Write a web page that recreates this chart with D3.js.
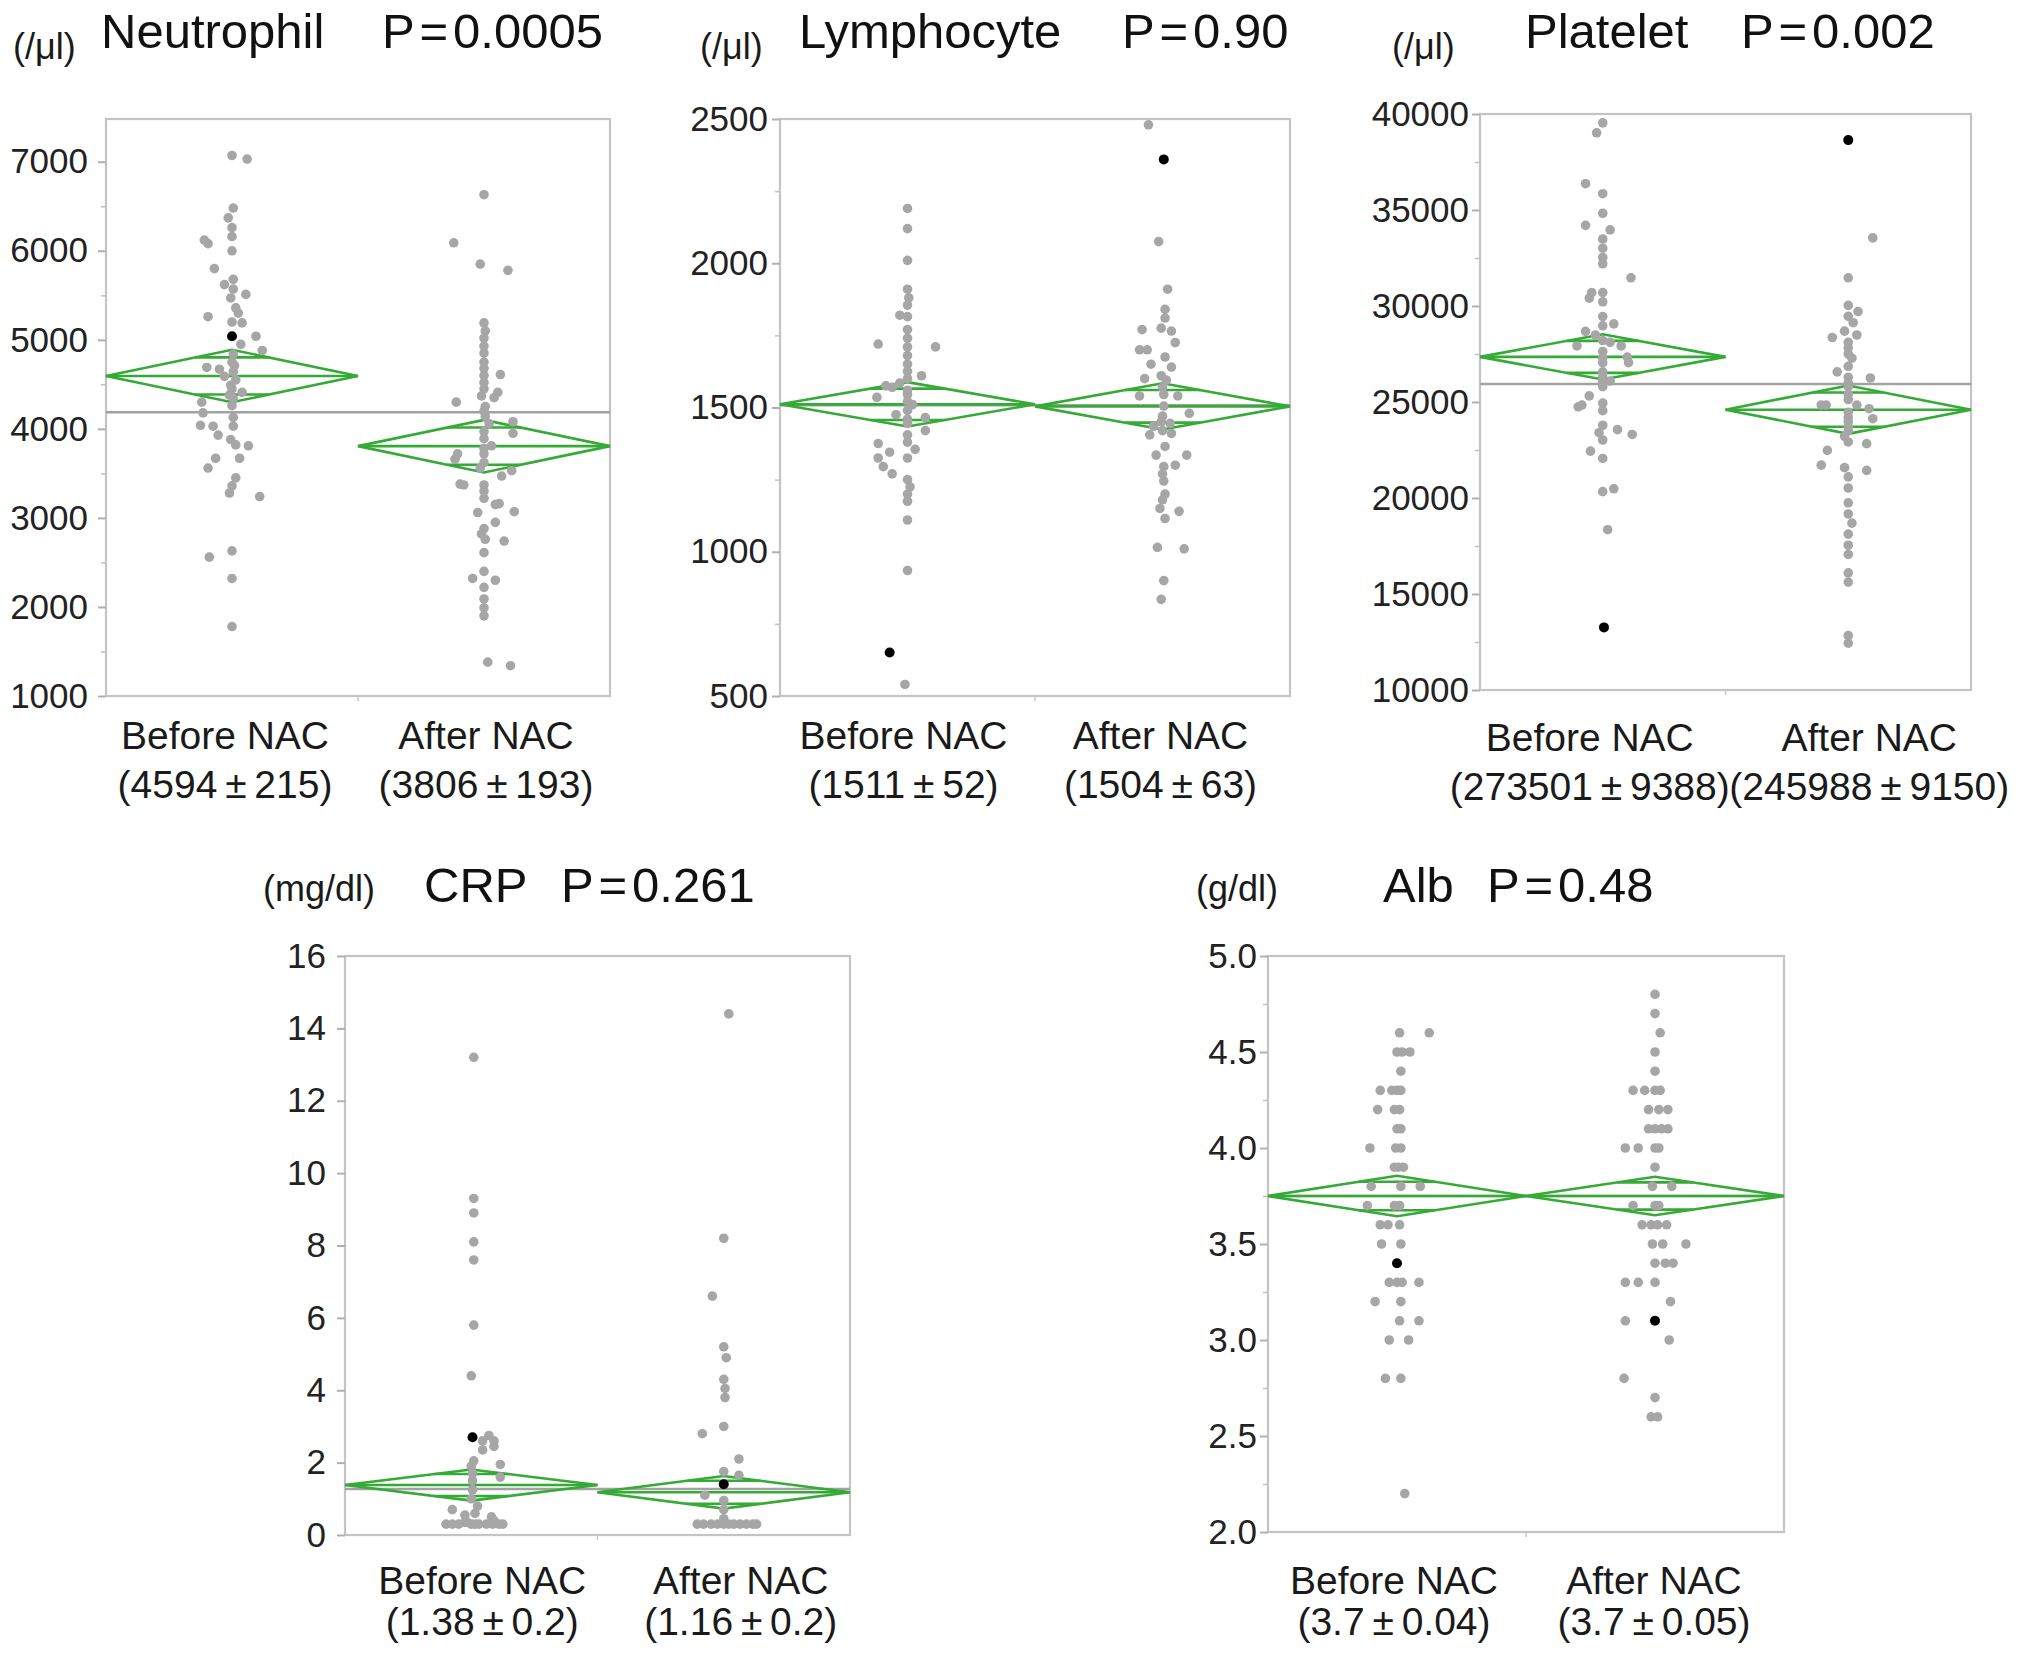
<!DOCTYPE html>
<html>
<head>
<meta charset="utf-8">
<script src="https://cdn.jsdelivr.net/npm/d3@7"></script>
<style>
  body { margin: 0; background: #fff; }
  svg { display: block; }
  text { font-family: "Liberation Sans", Arial, sans-serif; }
</style>
</head>
<body>
<div id="chart"></div>
<script>
// Categorias comunes
const categories = ["Before NAC", "After NAC"]

// Neutrophil: [valor, jitter]
const neutroBefore = [[7070,0],[7030,0.12],[6480,0.01],[6370,-0.03],[6260,0],[6160,0],[6120,-0.22],[6080,-0.19],[6000,0],[5800,-0.14],[5680,0.01],[5620,-0.06],[5570,0.01],[5510,0.11],[5470,-0.01],[5360,0.03],[5300,0.05],[5260,-0.19],[5200,0],[5190,0.08],[5040,0.19],[4950,0.07],[4880,0.24],[4840,0.01],[4750,0],[4710,0.02],[4690,-0.2],[4670,-0.1],[4640,0.01],[4590,-0.06],[4550,0.03],[4490,-0.01],[4450,0],[4410,0.08],[4380,-0.02],[4340,0.01],[4300,-0.24],[4260,0],[4180,-0.23],[4130,0.01],[4040,-0.25],[4030,0.01],[4030,-0.15],[3930,-0.11],[3880,-0.01],[3820,0.03],[3810,0.13],[3670,-0.13],[3670,0.06],[3560,-0.19],[3450,0.03],[3360,0],[3280,-0.02],[3240,0.22],[2630,0],[2560,-0.18],[2320,0],[1780,0]]
const neutroAfter = [[6630,0],[6090,-0.24],[5850,-0.03],[5780,0.19],[5190,0],[5100,0.01],[5020,0],[4930,0],[4850,0],[4750,0],[4680,0],[4600,0],[4610,0.13],[4520,0],[4450,0],[4370,-0.02],[4410,0.11],[4350,0.08],[4300,-0.22],[4250,0.01],[4200,0],[4140,0.01],[4080,0.23],[4060,0.04],[3950,0.23],[3970,0],[3890,0],[3810,0.06],[3780,0],[3720,0],[3720,-0.21],[3660,-0.23],[3620,0],[3560,-0.03],[3530,0.22],[3470,0.14],[3380,-0.19],[3370,-0.16],[3370,0],[3300,0],[3220,0],[3160,0.12],[3150,0.09],[3070,0.24],[3060,-0.05],[2950,0.09],[2880,0],[2820,-0.02],[2760,0.01],[2740,0.16],[2610,0],[2400,0],[2320,-0.09],[2300,0.09],[2220,0],[2090,0],[1990,0],[1900,0],[1380,0.03],[1340,0.21]]
const neutroBlack = [["Before NAC",5040,0]]
const neutroMeans = [4594, 3806]
const neutroCI = [295, 295]
const neutroGrand = 4186
const neutroLabels = ["(4594±215)", "(3806±193)"]
const neutroTicks = [1000,2000,3000,4000,5000,6000,7000]
const neutroMinor = [1500,2500,3500,4500,5500,6500]

// Lymphocyte
const lymphBefore = [[2190,0],[2120,0],[2010,0],[1910,0],[1880,0.01],[1855,0],[1820,-0.06],[1815,0],[1770,0],[1740,0],[1720,-0.23],[1710,0.22],[1710,0],[1680,0],[1650,0],[1625,0],[1610,0.11],[1600,0],[1585,-0.06],[1575,-0.17],[1570,-0.12],[1560,0],[1545,0],[1535,-0.24],[1520,0],[1510,0.04],[1490,0],[1475,-0.09],[1465,0.14],[1460,0],[1445,0],[1420,0.14],[1405,0],[1380,0],[1375,-0.23],[1355,0.06],[1345,-0.14],[1325,-0.23],[1325,0],[1295,-0.19],[1270,-0.12],[1250,0],[1225,0.02],[1200,0],[1175,0],[1110,0],[935,0],[540,-0.02]]
const lymphAfter = [[2480,-0.11],[2075,-0.03],[1910,0.04],[1840,0.02],[1810,0.02],[1775,-0.01],[1770,-0.16],[1765,0.07],[1725,0.1],[1700,-0.18],[1700,-0.12],[1675,0.02],[1650,-0.09],[1640,0.07],[1610,-0.01],[1600,-0.14],[1595,0.03],[1570,0],[1545,0.01],[1540,-0.18],[1540,0.12],[1505,0.01],[1480,0.21],[1470,0],[1450,-0.01],[1445,0.06],[1435,-0.07],[1420,0],[1410,0.07],[1405,-0.1],[1365,0.02],[1335,-0.05],[1335,0.19],[1300,0.1],[1295,0.01],[1270,0],[1245,0.01],[1200,0.02],[1180,0],[1150,-0.02],[1140,0.13],[1115,0.02],[1015,-0.04],[1010,0.17],[900,0.01],[835,-0.01]]
const lymphBlack = [["Before NAC",651,-0.14],["After NAC",2360,0.01]]
const lymphMeans = [1511, 1504]
const lymphCI = [77, 80]
const lymphGrand = 1508
const lymphLabels = ["(1511±52)", "(1504±63)"]
const lymphTicks = [500,1000,1500,2000,2500]
const lymphMinor = [750,1250,1750,2250]

// Platelet
const plateletBefore = [[39540,0],[39020,-0.05],[36370,-0.14],[35850,0],[34830,0],[34200,-0.14],[33970,0.06],[33490,0],[33010,0],[32530,0],[32200,0],[31470,0.23],[30700,-0.09],[30410,-0.11],[30700,0],[30220,0],[29450,0],[29070,0.09],[28970,0],[28680,-0.14],[28490,-0.06],[28200,0],[28110,0.06],[27920,-0.21],[27920,0.15],[27630,0],[27340,0.2],[27300,0],[27050,0.21],[27050,0],[26570,0],[26300,0],[26090,0],[26090,0.06],[25800,0],[25320,-0.11],[24940,0],[24840,-0.17],[24750,-0.2],[24550,0],[23790,0],[23560,0.12],[23400,-0.03],[23310,0.24],[23020,0],[22440,-0.1],[22060,0],[20480,0.09],[20330,0],[18350,0.04]]
const plateletAfter = [[33550,0.2],[31470,0],[30030,0],[29710,0.08],[29460,0],[29130,0.04],[28690,-0.03],[28490,0.07],[28360,-0.13],[28110,0],[27820,0],[27500,0],[27280,0.03],[26860,0],[26570,-0.09],[26290,0],[26250,0.18],[26000,0],[25800,0],[25400,0],[25130,0],[24840,-0.18],[24840,-0.22],[24840,0.07],[24650,0.17],[24460,0],[24200,0],[24130,0.2],[23980,0],[23700,0],[23500,0],[23210,-0.03],[22920,0],[22830,0.15],[22480,-0.17],[21710,-0.22],[21580,-0.03],[21440,0.15],[21100,0],[20520,0],[19750,0],[19170,0],[18690,0.03],[18120,0],[17540,0],[17060,0],[16100,0],[15620,0],[12830,0],[12440,0]]
const plateletBlack = [["Before NAC",13260,0.01],["After NAC",38640,0]]
const plateletMeans = [27350, 24600]
const plateletCI = [1180, 1260]
const plateletGrand = 25940
const plateletLabels = ["(273501±9388)", "(245988±9150)"]
const plateletTicks = [10000,15000,20000,25000,30000,35000,40000]
const plateletMinor = [12500,17500,22500,27500,32500,37500]

// CRP
const crpBefore = [[13.2,0.02],[9.3,0.02],[8.9,0.02],[8.1,0.02],[7.6,0.02],[5.8,0.02],[4.4,0],[2.75,0.14],[2.6,0.09],[2.6,0.18],[2.45,0.18],[2.35,0.09],[2.05,0.02],[1.95,0.23],[1.9,0],[1.7,0.01],[1.6,0.23],[1.5,0.01],[1.25,0.01],[1.0,0],[0.8,0.05],[0.7,-0.15],[0.6,0.03],[0.55,-0.05],[0.5,0.16],[0.4,0.18],[0.35,-0.05],[0.35,-0.03],[0.3,-0.2],[0.3,-0.15],[0.3,-0.1],[0.3,0],[0.3,0.03],[0.3,0.06],[0.3,0.12],[0.3,0.17],[0.3,0.22],[0.3,0.25]]
const crpAfter = [[14.4,0.04],[8.2,0],[6.6,-0.09],[5.2,0],[4.9,0.02],[4.3,0],[4.05,0.01],[3.8,0.01],[3.0,0],[2.8,-0.17],[2.1,0.12],[1.75,0],[1.65,0.12],[1.1,-0.15],[0.95,0],[0.7,0],[0.45,0],[0.3,-0.21],[0.3,-0.16],[0.3,-0.1],[0.3,-0.05],[0.3,0],[0.3,0.04],[0.3,0.08],[0.3,0.13],[0.3,0.18],[0.3,0.23],[0.3,0.26]]
const crpBlack = [["Before NAC",2.7,0.01],["After NAC",1.4,0]]
const crpMeans = [1.38, 1.18]
const crpCI = [0.43, 0.45]
const crpGrand = 1.27
const crpLabels = ["(1.38±0.2)", "(1.16±0.2)"]
const crpTicks = [0,2,4,6,8,10,12,14,16]

// Alb
const albBefore = [[4.6,0.02],[4.6,0.25],[4.5,0],[4.5,0.04],[4.5,0.1],[4.4,0.03],[4.3,-0.13],[4.3,-0.04],[4.3,0],[4.3,0.03],[4.2,-0.15],[4.2,-0.02],[4.2,0.02],[4.1,0],[4.1,0.03],[4.0,-0.21],[4.0,-0.01],[4.0,0.03],[3.9,-0.02],[3.9,0.01],[3.9,0.05],[3.8,-0.2],[3.8,0.03],[3.8,0.18],[3.7,-0.23],[3.7,-0.02],[3.7,0.02],[3.6,-0.13],[3.6,-0.07],[3.6,0.02],[3.5,-0.12],[3.5,0.03],[3.3,-0.06],[3.3,0],[3.3,0.04],[3.3,0.17],[3.2,-0.17],[3.2,0.03],[3.1,0.02],[3.1,0.17],[3.0,-0.06],[3.0,0.09],[2.8,-0.09],[2.8,0.03],[2.2,0.06]]
const albAfter = [[4.8,0],[4.7,0],[4.6,0.04],[4.5,0],[4.4,0],[4.3,-0.17],[4.3,-0.08],[4.3,0],[4.3,0.04],[4.2,-0.05],[4.2,0.03],[4.2,0.1],[4.1,-0.05],[4.1,0],[4.1,0.05],[4.1,0.1],[4.0,-0.23],[4.0,-0.13],[4.0,0],[4.0,0.03],[3.9,0],[3.8,-0.02],[3.8,0.13],[3.7,-0.17],[3.7,0],[3.7,0.03],[3.6,-0.1],[3.6,-0.03],[3.6,0.02],[3.6,0.09],[3.5,-0.02],[3.5,0.06],[3.5,0.24],[3.4,0],[3.4,0.08],[3.4,0.14],[3.3,-0.23],[3.3,-0.13],[3.3,0],[3.2,0.12],[3.1,-0.23],[3.0,0.11],[2.8,-0.24],[2.7,0],[2.6,-0.03],[2.6,0.02]]
const albBlack = [["Before NAC",3.4,0],["After NAC",3.1,0]]
const albMeans = [3.75, 3.75]
const albCI = [0.105, 0.1]
const albGrand = 3.75
const albLabels = ["(3.7±0.04)", "(3.7±0.05)"]
const albTicks = [2.0,2.5,3.0,3.5,4.0,4.5,5.0]
const albMinor = [2.25,2.75,3.25,3.75,4.25,4.75]

// Configuracion de paneles (layout)
const panels = [
  { title: "Neutrophil", pval: "0.0005", unit: "(/μl)", groups: [neutroBefore, neutroAfter], black: neutroBlack,
    means: neutroMeans, ci: neutroCI, grand: neutroGrand, labels: neutroLabels, ticks: neutroTicks, minor: neutroMinor,
    fmt: d3.format("d"), domain: [1000, 7480], box: [106, 119, 610, 696], pad: 10,
    unitPos: [13, 59], titlePos: [101, 48], pPos: [382, 48], labelY: [749, 798], labelDx: [-7, 2] },
  { title: "Lymphocyte", pval: "0.90", unit: "(/μl)", groups: [lymphBefore, lymphAfter], black: lymphBlack,
    means: lymphMeans, ci: lymphCI, grand: lymphGrand, labels: lymphLabels, ticks: lymphTicks, minor: lymphMinor,
    fmt: d3.format("d"), domain: [500, 2500], box: [780, 119, 1290, 696], pad: 4,
    unitPos: [700, 59], titlePos: [799, 48], pPos: [1122, 48], labelY: [749, 798], labelDx: [-4, -2] },
  { title: "Platelet", pval: "0.002", unit: "(/μl)", groups: [plateletBefore, plateletAfter], black: plateletBlack,
    means: plateletMeans, ci: plateletCI, grand: plateletGrand, labels: plateletLabels, ticks: plateletTicks, minor: plateletMinor,
    fmt: d3.format("d"), domain: [10000, 40000], box: [1480, 114, 1971, 690], pad: 3,
    unitPos: [1392, 59], titlePos: [1525, 48], pPos: [1741, 48], labelY: [751, 800], labelDx: [-13, 21] },
  { title: "CRP", pval: "0.261", unit: "(mg/dl)", groups: [crpBefore, crpAfter], black: crpBlack,
    means: crpMeans, ci: crpCI, grand: crpGrand, labels: crpLabels, ticks: crpTicks, minor: null,
    fmt: d3.format("d"), domain: [0, 16], box: [345, 956, 850, 1535], pad: 11,
    unitPos: [263, 901], titlePos: [424, 902], pPos: [561, 902], labelY: [1594, 1635], labelDx: [11, 17] },
  { title: "Alb", pval: "0.48", unit: "(g/dl)", groups: [albBefore, albAfter], black: albBlack,
    means: albMeans, ci: albCI, grand: albGrand, labels: albLabels, ticks: albTicks, minor: albMinor,
    fmt: d3.format(".1f"), domain: [2, 5], box: [1268, 956, 1784, 1532], pad: 3,
    unitPos: [1196, 901], titlePos: [1383, 902], pPos: [1487, 902], labelY: [1594, 1635], labelDx: [-3, -1] }
]

const green = "#36aa36"
const grayDot = "#a6a6a6"
const frameColor = "#c4c4c4"

const svg = d3.select("#chart")
    .append("svg")
    .attr("width", 2031)
    .attr("height", 1655)

svg.append("rect").attr("width", 2031).attr("height", 1655).attr("fill", "#fff")

panels.forEach(p => {
    const [left, top, right, bottom] = p.box
    const g = svg.append("g")

    // Escalas
    const y = d3.scaleLinear().domain(p.domain).range([bottom, top])
    const x = d3.scaleBand().domain(categories).range([left, right])
    const jit = categories.map(c => d3.scaleLinear().domain([-1, 1]).range([x(c), x(c) + x.bandwidth()]))
    const cx = c => x(c) + x.bandwidth() / 2

    // Marco
    g.append("rect")
        .attr("x", left).attr("y", top)
        .attr("width", right - left).attr("height", bottom - top)
        .attr("fill", "none")
        .attr("stroke", frameColor)
        .attr("stroke-width", 2.2)

    // Eje Y
    const ax = g.append("g")
        .attr("transform", `translate(${left},0)`)
        .call(d3.axisLeft(y).tickValues(p.ticks).tickFormat(p.fmt).tickSize(8).tickPadding(p.pad))
    ax.select(".domain").remove()
    ax.selectAll("line").attr("stroke", "#b0b0b0").attr("stroke-width", 2)
    ax.selectAll("text").attr("font-size", 35).attr("fill", "#222")

    if (p.minor) {
        const mx = g.append("g")
            .attr("transform", `translate(${left},0)`)
            .call(d3.axisLeft(y).tickValues(p.minor).tickFormat("").tickSize(5))
        mx.select(".domain").remove()
        mx.selectAll("line").attr("stroke", "#c0c0c0").attr("stroke-width", 1.5)
    }

    // marca central del eje X
    g.append("line")
        .attr("x1", x(categories[1])).attr("x2", x(categories[1]))
        .attr("y1", bottom).attr("y2", bottom + 5)
        .attr("stroke", "#c8c8c8").attr("stroke-width", 1.5)

    // Media global
    g.append("line")
        .attr("x1", left).attr("x2", right)
        .attr("y1", y(p.grand)).attr("y2", y(p.grand))
        .attr("stroke", "#a2a2a2").attr("stroke-width", 2.6)

    // Diamantes de medias
    categories.forEach((c, i) => {
        const x0 = x(c), x1 = x(c) + x.bandwidth(), xm = cx(c)
        const m = p.means[i], ci = p.ci[i]
        const dg = g.append("g").attr("fill", "none").attr("stroke", green).attr("stroke-width", 2.6)
        dg.append("polygon")
            .attr("points", [[x0, y(m)], [xm, y(m + ci)], [x1, y(m)], [xm, y(m - ci)]].map(d => d.join(",")).join(" "))
        dg.append("line").attr("x1", x0).attr("x2", x1).attr("y1", y(m)).attr("y2", y(m))
        const f = Math.SQRT1_2
        const hw = (1 - f) * x.bandwidth() / 2
        ;[m + ci * f, m - ci * f].forEach(v => {
            dg.append("line").attr("x1", xm - hw).attr("x2", xm + hw).attr("y1", y(v)).attr("y2", y(v))
        })
    })

    // Puntos
    categories.forEach((c, i) => {
        g.append("g")
            .selectAll("circle")
            .data(p.groups[i])
            .join("circle")
            .attr("cx", d => jit[i](d[1]))
            .attr("cy", d => y(d[0]))
            .attr("r", 4.8)
            .attr("fill", grayDot)
    })
    g.append("g")
        .selectAll("circle")
        .data(p.black)
        .join("circle")
        .attr("cx", d => jit[categories.indexOf(d[0])](d[2]))
        .attr("cy", d => y(d[1]))
        .attr("r", 5)
        .attr("fill", "#000")

    // Etiquetas de categoria
    categories.forEach((c, i) => {
        g.append("text")
            .attr("x", cx(c) + p.labelDx[i]).attr("y", p.labelY[0])
            .attr("text-anchor", "middle")
            .attr("font-size", 39).attr("fill", "#1a1a1a")
            .text(c)
        const parts = p.labels[i].split("±")
        const t = g.append("text")
            .attr("x", cx(c) + p.labelDx[i]).attr("y", p.labelY[1])
            .attr("text-anchor", "middle")
            .attr("font-size", 39).attr("fill", "#1a1a1a")
        t.append("tspan").text(parts[0])
        t.append("tspan").attr("dx", "0.2em").text("±")
        t.append("tspan").attr("dx", "0.2em").text(parts[1])
    })

    // Titulos
    g.append("text")
        .attr("x", p.unitPos[0]).attr("y", p.unitPos[1])
        .attr("font-size", 36).attr("fill", "#1a1a1a")
        .text(p.unit)
    g.append("text")
        .attr("x", p.titlePos[0]).attr("y", p.titlePos[1])
        .attr("font-size", 49).attr("fill", "#111")
        .text(p.title)
    const pt = g.append("text")
        .attr("x", p.pPos[0]).attr("y", p.pPos[1])
        .attr("font-size", 49).attr("fill", "#111")
    pt.append("tspan").text("P")
    pt.append("tspan").attr("dx", "0.1em").text("=")
    pt.append("tspan").attr("dx", "0.1em").text(p.pval)
})
</script>
</body>
</html>
